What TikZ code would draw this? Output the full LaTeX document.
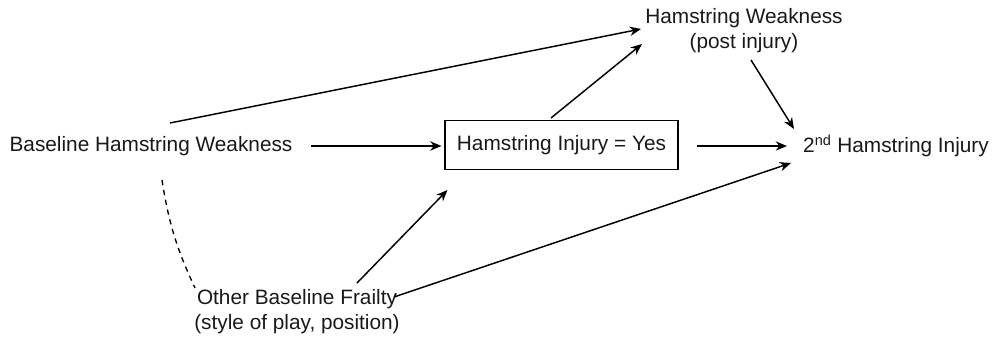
\documentclass[tikz,border=0pt]{standalone}
\usepackage{fontspec}
\setmainfont{Liberation Sans}
\usetikzlibrary{arrows.meta,calc}
\begin{document}
\begin{tikzpicture}[x=0.75pt,y=-0.75pt,
  txt/.style={inner sep=0pt,font=\fontsize{15.6}{18.75}\selectfont,text=black!90},
  boxnode/.style={txt,draw,line width=1pt,minimum width=174.75pt,minimum height=36.75pt},
  arr/.style={-{Stealth[length=8.5pt,width=7pt]},line width=1.1pt},
  dsh/.style={line width=1pt,dash pattern=on 4pt off 3.5pt}]
\path[use as bounding box] (0,0) rectangle (992,341);
\node[txt] (base) at (151,146) {Baseline Hamstring Weakness};
\node[boxnode] (inj) at (561.5,145) {Hamstring Injury = Yes};
\node[txt,align=center] (hw) at (744,31) {Hamstring Weakness\\(post injury)};
\node[txt] (sec) at (896,146) {2\textsuperscript{nd} Hamstring Injury};
\node[txt,align=center] (oth) at (297,312) {Other Baseline Frailty\\(style of play, position)};
\draw[arr] ($(base.center)+(160,0)$) -- ($(inj.center)+(-120,1)$);
\draw[arr] ($(inj.center)+(135.5,1)$) -- ($(sec.center)+(-109,0)$);
\draw[arr] ($(base.center)+(19,-23)$) -- ($(hw.center)+(-103,-2)$);
\draw[arr] ($(inj.center)+(-10.5,-27)$) -- ($(hw.center)+(-102,13)$);
\draw[arr] ($(hw.center)+(7,29)$) -- ($(sec.center)+(-102,-17)$);
\draw[arr] ($(oth.center)+(60,-29)$) -- ($(inj.center)+(-114,45)$);
\draw[arr] ($(oth.center)+(97,-15)$) -- ($(sec.center)+(-105,17)$);
\draw[dsh] ($(base.center)+(11,34)$) to[bend right=8] ($(oth.center)+(-102,-24)$);
\end{tikzpicture}
\end{document}
